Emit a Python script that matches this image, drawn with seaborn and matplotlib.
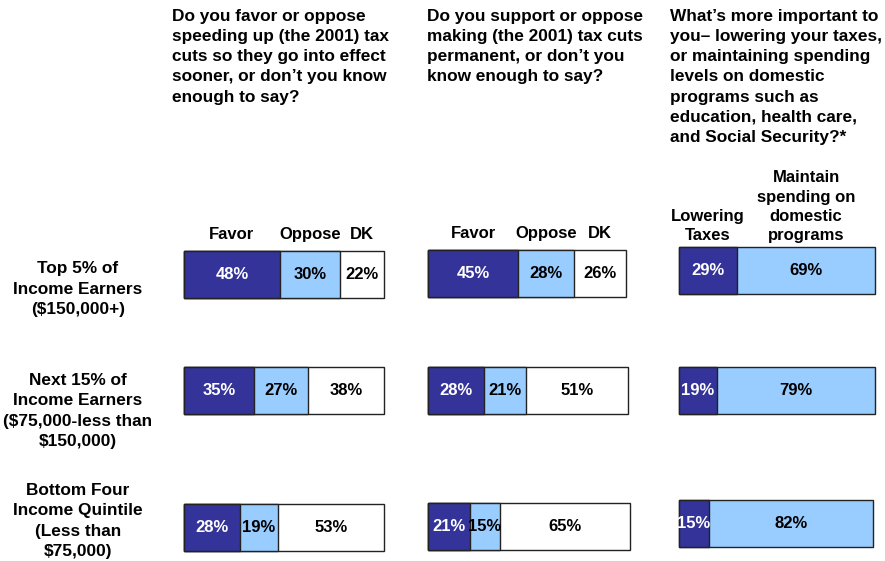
import matplotlib
matplotlib.use("Agg")
import matplotlib.pyplot as plt
import pandas as pd
import seaborn as sns

# ---- data -------------------------------------------------------------
groups = [
    "Top 5% of\nIncome Earners\n($150,000+)",
    "Next 15% of\nIncome Earners\n($75,000-less than\n$150,000)",
    "Bottom Four\nIncome Quintile\n(Less than\n$75,000)",
]

q1_title = ("Do you favor or oppose\nspeeding up (the 2001) tax\ncuts so they go into effect\n"
            "sooner, or don\u2019t you know\nenough to say?")
q1_segments = ["Favor", "Oppose", "DK"]
q1_favor = [48, 35, 28]
q1_oppose = [30, 27, 19]
q1_dk = [22, 38, 53]

q2_title = ("Do you support or oppose\nmaking (the 2001) tax cuts\npermanent, or don\u2019t you\n"
            "know enough to say?")
q2_segments = ["Favor", "Oppose", "DK"]
q2_favor = [45, 28, 21]
q2_oppose = [28, 21, 15]
q2_dk = [26, 51, 65]

q3_title = ("What\u2019s more important to\nyou\u2013 lowering your taxes,\nor maintaining spending\n"
            "levels on domestic\nprograms such as\neducation, health care,\nand Social Security?*")
q3_segments = ["Lowering\nTaxes", "Maintain\nspending on\ndomestic\nprograms"]
q3_lower = [29, 19, 15]
q3_maintain = [69, 79, 82]

# ---- styling ----------------------------------------------------------
sns.set_theme(style="white")
plt.rcParams["font.family"] = ["Liberation Sans", "DejaVu Sans"]
plt.rcParams["text.color"] = "black"

DARK = "#333399"
LIGHT = "#99CCFF"
WHITE = "#FFFFFF"
EDGE = "#222222"
seg_colors = [DARK, LIGHT, WHITE]
text_colors = ["white", "black", "black"]

W, H = 885, 561
fig = plt.figure(figsize=(W / 100, H / 100), dpi=100)

panels = [
    dict(title=q1_title, segs=q1_segments, series=[q1_favor, q1_oppose, q1_dk],
         left=184, tleft=172, tops=[251, 367, 504]),
    dict(title=q2_title, segs=q2_segments, series=[q2_favor, q2_oppose, q2_dk],
         left=428, tleft=427, tops=[250, 367, 503]),
    dict(title=q3_title, segs=q3_segments, series=[q3_lower, q3_maintain],
         left=679, tleft=670, tops=[247, 367, 500]),
]
bar_h = 47
bar_w = 200  # pixel width of 100%
label_centers = [289, 411, 521]

TITLE_FS = 12.4
LABEL_FS = 12

for p in panels:
    fig.text(p["tleft"] / W, 1 - 9 / H, p["title"], ha="left", va="top",
             fontsize=TITLE_FS, fontweight="bold", linespacing=1.43)
    for r, top in enumerate(p["tops"]):
        ax = fig.add_axes([p["left"] / W, 1 - (top + bar_h) / H, bar_w / W, bar_h / H])
        vals = [s[r] for s in p["series"]]
        cums = pd.Series(vals).cumsum().tolist()
        # draw cumulative bars back to front to form a stacked bar
        for k in reversed(range(len(vals))):
            df = pd.DataFrame({"value": [cums[k]], "group": [groups[r]]})
            sns.barplot(data=df, x="value", y="group", orient="h", color=seg_colors[k],
                        saturation=1, width=1.0, edgecolor=EDGE, linewidth=1.0, ax=ax)
        for patch in ax.patches:
            patch.set_clip_on(False)
        ax.set_xlim(0, 100)
        ax.set_ylim(0.5, -0.5)
        ax.set_axis_off()
        starts = [0] + cums[:-1]
        for k, v in enumerate(vals):
            ax.text(starts[k] + v / 2, 0, f"{v}%", ha="center", va="center",
                    color=text_colors[k], fontsize=LABEL_FS, fontweight="bold")
            if r == 0:
                multiline = "\n" in p["segs"][k]
                ax.annotate(p["segs"][k], xy=(starts[k] + v / 2, 1.0),
                            xycoords=("data", "axes fraction"),
                            xytext=(0, 4 if multiline else 12), textcoords="offset pixels",
                            ha="center", va="bottom" if multiline else "baseline",
                            fontsize=LABEL_FS, fontweight="bold", linespacing=1.35)

for g, yc in zip(groups, label_centers):
    fig.text(78 / W, 1 - yc / H, g, ha="center", va="center", multialignment="center",
             fontsize=TITLE_FS, fontweight="bold", linespacing=1.43)

fig.savefig("out.png", dpi=100, facecolor="white")
